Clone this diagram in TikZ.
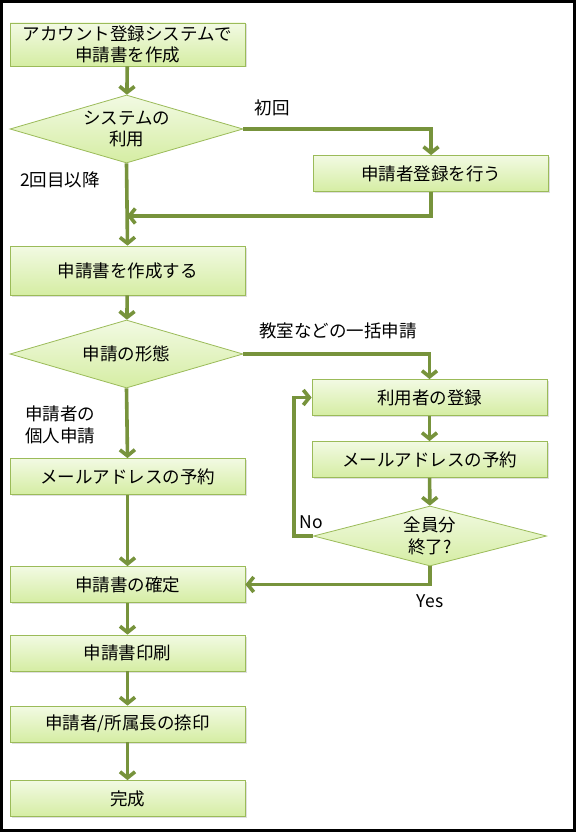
\documentclass[tikz,border=0pt]{standalone}
\usepackage{fontspec}
\setmainfont{Noto Sans CJK JP}
\usetikzlibrary{shapes.geometric,arrows.meta,shadows}

\definecolor{linegreen}{HTML}{77933C}
\definecolor{edgegreen}{HTML}{9BBB59}
\definecolor{filltop}{HTML}{F2FAE3}
\definecolor{fillbot}{HTML}{D5EDA3}
\def\txtsize{\fontsize{17.5}{21.5}\selectfont}

\begin{document}
\begin{tikzpicture}[x=1pt,y=-1pt,
  boxsty/.style={draw=edgegreen,line width=0.8pt,top color=filltop,bottom color=fillbot,
    minimum width=235pt,minimum height=36pt,inner sep=0pt,align=center,font=\txtsize,
    drop shadow={opacity=0.25,shadow xshift=1.5pt,shadow yshift=-1.5pt}},
  decsty/.style={diamond,draw=edgegreen,line width=0.8pt,top color=filltop,bottom color=fillbot,
    minimum width=233pt,minimum height=68pt,aspect=3.4,inner sep=0pt,align=center,font=\txtsize},
  flowsty/.style={draw=linegreen,line width=3.6pt,-{Straight Barb[length=6pt,width=15pt]}},
  labelsty/.style={align=left,font=\txtsize}]
  \useasboundingbox (0,0) rectangle (576,832);
  \fill[white] (0,0) rectangle (576,832);
  \draw[line width=3pt] (1.5,1.5) rectangle (574.5,830.5);

  \node[boxsty,minimum height=43pt] (acct) at (127.5,44.5) {アカウント登録システムで\\申請書を作成};
  \node[decsty] (usage) at (126.5,129) {システムの\\利用};
  \node[boxsty] (regist) at (431,173.5) {申請者登録を行う};
  \node[boxsty,minimum height=49pt] (create) at (127.5,270.5) {申請書を作成する};
  \node[decsty] (form) at (126.5,354) {申請の形態};
  \node[boxsty] (user) at (429.5,397.5) {利用者の登録};
  \node[boxsty] (mailR) at (429.5,459.5) {メールアドレスの予約};
  \node[decsty,minimum height=60pt] (done) at (430,536) {全員分\\終了?};
  \node[boxsty] (mailL) at (127.5,476.5) {メールアドレスの予約};
  \node[boxsty] (fix) at (127.5,584.5) {申請書の確定};
  \node[boxsty] (print) at (127.5,653) {申請書印刷};
  \node[boxsty] (stamp) at (127.5,724) {申請者/所属長の捺印};
  \node[boxsty] (finish) at (127.5,798.5) {完成};

  \node[labelsty] (lfirst) at (272,108) {初回};
  \node[labelsty] (lagain) at (60,180) {2回目以降};
  \node[labelsty] (lgroup) at (338,331) {教室などの一括申請};
  \node[labelsty] (lsingle) at (60,425) {申請者の\\個人申請};
  \node[labelsty] (lno) at (311,522) {No};
  \node[labelsty] (lyes) at (430,601) {Yes};

  \coordinate (merge) at (127,216);

  \draw[flowsty] (acct) -- (usage);
  \draw[flowsty] (usage.east) -| (regist.north);
  \draw[flowsty] (regist.south) |- (merge);
  \draw[flowsty] (usage.south) -- (create.north);
  \draw[flowsty] (create) -- (form);
  \draw[flowsty] (form.east) -| (user.north);
  \draw[flowsty] (user) -- (mailR);
  \draw[flowsty] (mailR) -- (done);
  \draw[flowsty] (done.west) -- ++(-19,0) |- (user.west);
  \draw[flowsty] (done.south) |- (fix.east);
  \draw[flowsty] (form.south) -- (mailL.north);
  \draw[flowsty] (mailL) -- (fix);
  \draw[flowsty] (fix) -- (print);
  \draw[flowsty] (print) -- (stamp);
  \draw[flowsty] (stamp) -- (finish);
\end{tikzpicture}
\end{document}
